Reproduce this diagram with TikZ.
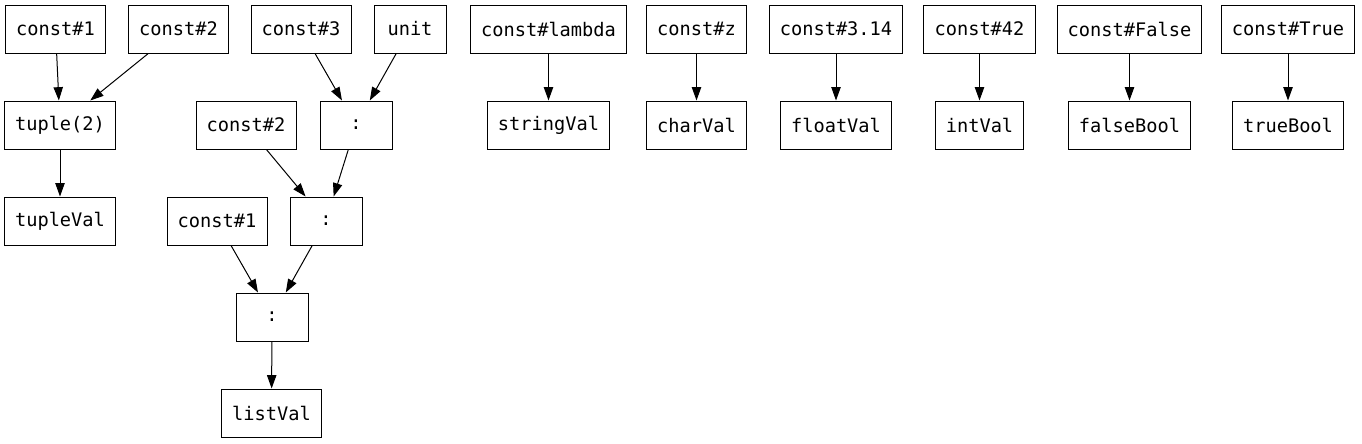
\documentclass[tikz,border=0pt]{standalone}
\usepackage{fontspec}
\setmonofont{DejaVu Sans Mono}
\usetikzlibrary{arrows.meta}
\begin{document}
\begin{tikzpicture}[x=0.75pt,y=-0.75pt,
    val/.style={draw,line width=0.75pt,font=\ttfamily\fontsize{14}{16}\selectfont,
        minimum width=54pt,minimum height=36pt,inner xsep=8pt},
    dep/.style={-{Triangle[length=10pt,width=7pt]},line width=0.75pt}]
                \useasboundingbox (0,0) rectangle (1362,443);
                % tuple
                \node[val] (ca) at (55.5,29) {const\#1};
                \node[val] (cb) at (178.5,29) {const\#2};
                \node[val] (tup) at (60,125) {tuple(2)};
                \node[val] (tupv) at (60,221) {tupleVal};
                \draw[dep] (ca) -- (tup);
                \draw[dep] (cb) -- (tup);
                \draw[dep] (tup) -- (tupv);
                % list
                \node[val] (cc) at (301,29) {const\#3};
                \node[val] (unit) at (410,29) {unit};
                \node[val] (cb2) at (246,125) {const\#2};
                \node[val] (consa) at (356,125) {:};
                \node[val] (ca2) at (217,221) {const\#1};
                \node[val] (consb) at (326,221) {:};
                \node[val] (consc) at (272,317) {:};
                \node[val] (listv) at (271.5,413) {listVal};
                \draw[dep] (cc) -- (consa);
                \draw[dep] (unit) -- (consa);
                \draw[dep] (cb2) -- (consb);
                \draw[dep] (consa) -- (consb);
                \draw[dep] (ca2) -- (consc);
                \draw[dep] (consb) -- (consc);
                \draw[dep] (consc) -- (listv);
                % literals
                \foreach \x/\c/\v/\n in {548.5/lambda/stringVal/s, 696.5/z/charVal/ch,
                        836/3.14/floatVal/f, 979.5/42/intVal/i,
                        1129.5/False/falseBool/fb, 1288/True/trueBool/tb} {
                    \node[val] (k\n) at (\x,29) {const\#\c};
                    \node[val] (v\n) at (\x,125) {\v};
                    \draw[dep] (k\n) -- (v\n);
                }
            \end{tikzpicture}
\end{document}
